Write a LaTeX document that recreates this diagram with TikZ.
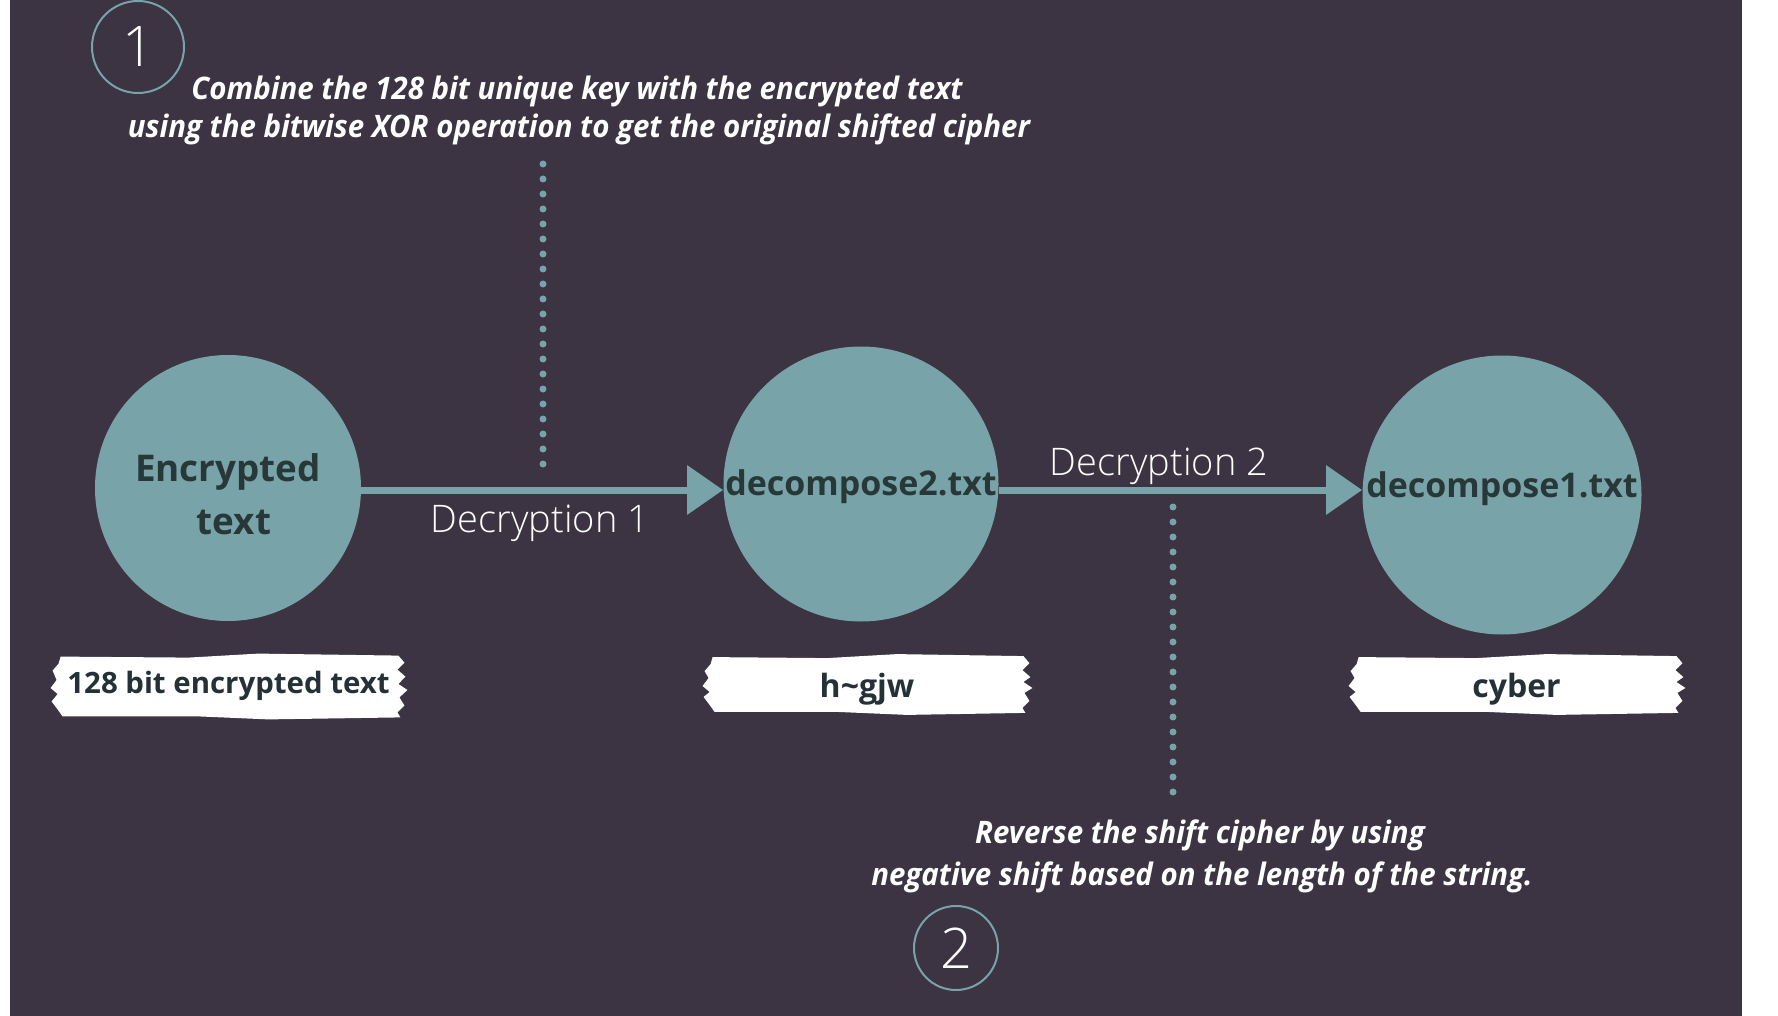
\documentclass[tikz,border=0pt]{standalone}
\usepackage{fontspec}
\setmainfont{Open Sans}
\newfontfamily\oslight{Open Sans Light}
\usetikzlibrary{arrows.meta,calc,backgrounds}
\definecolor{bgdark}{HTML}{3C3442}
\definecolor{teal}{HTML}{78A3A9}
\definecolor{inktext}{HTML}{283838}
\definecolor{labtext}{HTML}{243238}
\newcommand\tornbg[1]{%
 \fill[white] ($(#1.north west)+(6,2)$) -- ($(#1.north)+(-40,3)$) -- ($(#1.north)+(30,-1)$) -- ($(#1.north east)+(-4,1)$) -- ($(#1.north east)+(2,8)$) -- ($(#1.north east)+(-5,15)$) -- ($(#1.north east)+(3,22)$) -- ($(#1.east)+(-4,-2)$) -- ($(#1.east)+(5,4)$) -- ($(#1.south east)+(-3,-20)$) -- ($(#1.south east)+(2,-12)$) -- ($(#1.south east)+(-5,-5)$) -- ($(#1.south east)+(-2,0)$) -- ($(#1.south)+(40,2)$) -- ($(#1.south)+(-30,-1)$) -- ($(#1.south west)+(8,-1)$) -- ($(#1.south west)+(3,-8)$) -- ($(#1.south west)+(-3,-16)$) -- ($(#1.west)+(3,8)$) -- ($(#1.west)+(-4,2)$) -- ($(#1.west)+(2,-6)$) -- ($(#1.north west)+(-2,16)$) -- ($(#1.north west)+(4,9)$) -- cycle;}
\tikzset{
  bubble/.style={circle, fill=teal, inner sep=0pt, text=inktext, align=center},
  flow/.style={teal, line width=3.5pt, -{Triangle[length=18pt,width=24pt]}},
  dotline/.style={teal, line width=3.5pt, line cap=round, dash pattern=on 0pt off 7.5pt},
  note/.style={text=white, inner sep=0pt, anchor=base, font=\fontsize{15.5}{18}\selectfont\bfseries\itshape},
  declab/.style={text=white, inner sep=0pt, anchor=base, font=\oslight\fontsize{19}{22}\selectfont},
  numring/.style={circle, draw=teal, line width=1pt, text=white, inner sep=0pt, font=\oslight\fontsize{28}{30}\selectfont},
  tornlab/.style={inner sep=0pt, text=labtext, font=\bfseries\fontsize{14.7}{16}\selectfont}
}
\begin{document}
\begin{tikzpicture}[x=0.5pt,y=-0.5pt]
\useasboundingbox (0,0) rectangle (1778,1016);
% step numbers
\node[numring, minimum size=46pt] (s1) at (138,47) {1};
\node[numring, minimum size=42pt] (s2) at (956,948) {2};
% annotations
\node[note] (t1a) at (577,100) {\scalebox{0.95}[1]{Combine the 128 bit unique key with the encrypted text}};
\node[note] (t1b) at (579,138) {\scalebox{0.95}[1]{using the bitwise XOR operation to get the original shifted cipher}};
\node[note] (t2a) at (1200,843) {\scalebox{0.95}[1]{Reverse the shift cipher by using}};
\node[note] (t2b) at (1202,885) {\scalebox{0.95}[1]{negative shift based on the length of the string.}};
% circles
\node[bubble, minimum size=133pt, font=\bfseries\fontsize{18.4}{26.5}\selectfont] (A) at (228,488) {\rule{0pt}{20pt}Encrypted\\\hspace{6pt}text};
\node[bubble, minimum size=137.5pt, text height=12pt, text depth=1pt, font=\bfseries\fontsize{17}{19}\selectfont] (B) at (861,484) {decompose2.txt};
\node[bubble, minimum size=139.5pt, text height=8pt, text depth=6pt, font=\bfseries\fontsize{17}{19}\selectfont] (C) at (1502,495) {decompose1.txt};
% arrows
\coordinate (ay) at (0,490);
\draw[flow] (A.east |- ay) -- (B.west |- ay);
\draw[flow] (B.east |- ay) -- (C.west |- ay);
\node[declab] (d1) at (540,532) {Decryption 1};
\node[declab] (d2) at (1159,475) {Decryption 2};
% dotted leaders
\coordinate (p1t) at (543,164);
\coordinate (p1b) at (543,468);
\coordinate (p2t) at (1173,507);
\coordinate (p2b) at (1173,800);
\draw[dotline] (p1t) -- (p1b);
\draw[dotline] (p2t) -- (p2b);
% labels
\node[tornlab, minimum width=173.5pt, minimum height=31pt] (l1) at (228.5,686) {128 bit encrypted text};
\node[tornlab, minimum width=160pt, minimum height=28.5pt, text height=16pt, text depth=3pt, font=\bfseries\fontsize{16}{18}\selectfont] (l2) at (867,684) {h\char`~gjw};
\node[tornlab, minimum width=163.5pt, minimum height=28.5pt, text height=16pt, text depth=3pt, font=\bfseries\fontsize{16}{18}\selectfont] (l3) at (1516.5,684) {cyber};
\begin{scope}[on background layer]
\fill[white] (0,0) rectangle (1778,1016);
\fill[bgdark] (10,0) rectangle (1742,1016);
\tornbg{l1}
\tornbg{l2}
\tornbg{l3}
\end{scope}
\end{tikzpicture}
\end{document}
